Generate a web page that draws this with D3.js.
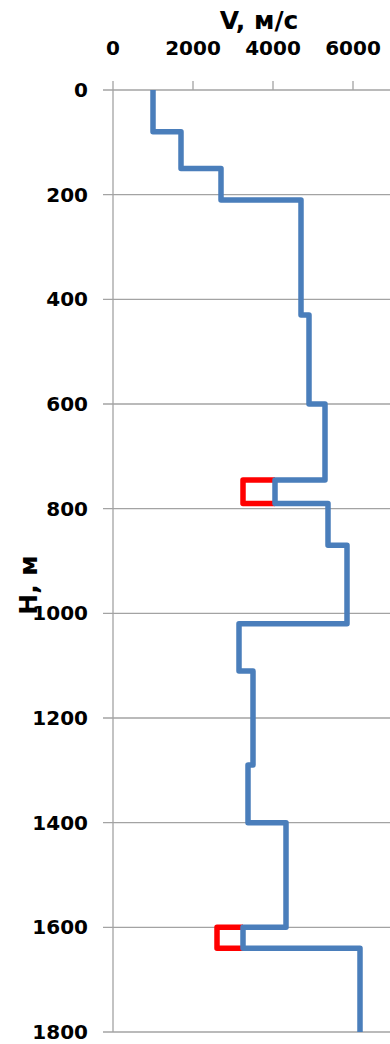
<!DOCTYPE html>
<html>
<head>
<meta charset="utf-8">
<script src="https://cdn.jsdelivr.net/npm/d3@7"></script>
<style>
  html, body { margin: 0; padding: 0; background: #fff; }
  svg { display: block; }
  text { font-family: "DejaVu Sans", sans-serif; font-weight: bold; fill: #000; }
</style>
</head>
<body>
<svg id="chart" width="390" height="1044"></svg>
<script>
// Layer boundaries (depth, m) and interval velocity of each layer (m/s)
const layerDepths = [0, 80, 150, 210, 430, 600, 745, 790, 870, 1020, 1110, 1290, 1400, 1600, 1640, 1800];
const layerVelocities = [1000, 1700, 2700, 4700, 4900, 5300, 4050, 5375, 5850, 3150, 3500, 3375, 4325, 3250, 6175];

// Low-velocity anomalies, outlined in red against the velocity log
const anomalyTop = [745, 1600];
const anomalyBottom = [790, 1640];
const anomalyVelocity = [3250, 2600];
const anomalyBase = [4050, 3250];

const velocityTicks = [0, 2000, 4000, 6000];
const depthTicks = [0, 200, 400, 600, 800, 1000, 1200, 1400, 1600, 1800];

const svg = d3.select("#chart");
const W = 390;

const x = d3.scaleLinear().domain([0, 8000]).range([113, 433]);
const y = d3.scaleLinear().domain([0, 1800]).range([90, 1032]);

const gridColor = "#a3a3a3";

// Horizontal gridlines with left tick marks
svg.append("g").selectAll("line").data(depthTicks).join("line")
  .attr("x1", x(0) - 10).attr("x2", W)
  .attr("y1", d => y(d)).attr("y2", d => y(d))
  .attr("stroke", gridColor).attr("stroke-width", 1.3);

// Vertical axis line
svg.append("line")
  .attr("x1", x(0)).attr("x2", x(0))
  .attr("y1", y(0) - 9).attr("y2", y(1800))
  .attr("stroke", gridColor).attr("stroke-width", 1.3);

// Top axis tick marks
svg.append("g").selectAll("line").data(velocityTicks.slice(1)).join("line")
  .attr("x1", d => x(d)).attr("x2", d => x(d))
  .attr("y1", y(0) - 9).attr("y2", y(0))
  .attr("stroke", gridColor).attr("stroke-width", 1.3);

// Tick labels
svg.append("g").selectAll("text").data(velocityTicks).join("text")
  .attr("x", d => x(d)).attr("y", 48)
  .attr("text-anchor", "middle").attr("dominant-baseline", "central")
  .attr("font-size", 20)
  .text(d => d);

svg.append("g").selectAll("text").data(depthTicks).join("text")
  .attr("x", 88).attr("y", d => y(d))
  .attr("text-anchor", "end").attr("dominant-baseline", "central")
  .attr("font-size", 20)
  .text(d => d);

// Axis titles
svg.append("text")
  .attr("x", 259).attr("y", 29)
  .attr("text-anchor", "middle")
  .attr("font-size", 25)
  .text("V, м/с");

svg.append("text")
  .attr("transform", "translate(37,585) rotate(-90)")
  .attr("text-anchor", "middle")
  .attr("font-size", 25)
  .text("H, м");

const line = d3.line().x(d => x(d[0])).y(d => y(d[1]));

// Anomaly outlines
anomalyTop.forEach((top, i) => {
  const pts = [
    [anomalyBase[i], top],
    [anomalyVelocity[i], top],
    [anomalyVelocity[i], anomalyBottom[i]],
    [anomalyBase[i], anomalyBottom[i]]
  ];
  svg.append("path")
    .attr("d", line(pts))
    .attr("fill", "none")
    .attr("stroke", "#ff0000")
    .attr("stroke-width", 5.5)
    .attr("stroke-linejoin", "round");
});

// Stepped velocity log
const stepPts = [];
layerVelocities.forEach((v, i) => {
  stepPts.push([v, layerDepths[i]]);
  stepPts.push([v, layerDepths[i + 1]]);
});

svg.append("path")
  .attr("d", line(stepPts))
  .attr("fill", "none")
  .attr("stroke", "#4a7ebb")
  .attr("stroke-width", 5.5)
  .attr("stroke-linejoin", "round");
</script>
</body>
</html>
